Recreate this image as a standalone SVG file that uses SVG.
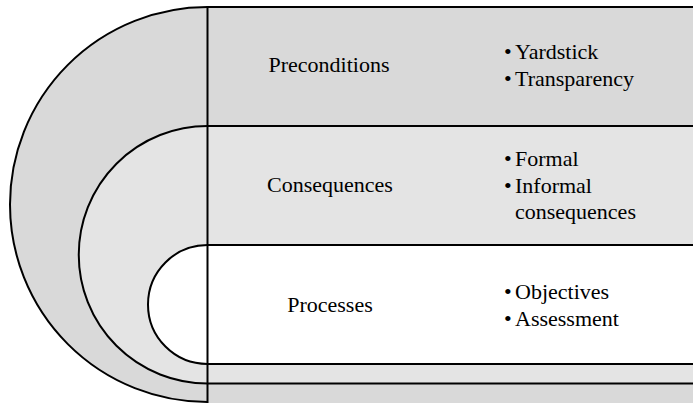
<svg xmlns="http://www.w3.org/2000/svg" width="693" height="403" viewBox="0 0 693 403">
<style>
.band{stroke:#000;stroke-width:2}
.outer{fill:#d9d9d9}
.mid{fill:#e4e4e4}
.inner{fill:#ffffff}
text{font-family:"Liberation Serif","Times New Roman",serif;font-size:22px;fill:#000}
.c{text-anchor:middle}
.line{stroke:#000;stroke-width:2;fill:none}
</style>
<rect x="0" y="0" width="693" height="403" fill="#ffffff"/>
<g id="preconditions">
<path class="outer" d="M693,7 H207.5 A197.5,197.5 0 0 0 207.5,402 V403 H693 Z"/>
<path class="line" d="M693,7 H207.5 A197.5,197.5 0 0 0 207.5,402"/>
<text class="c" x="329" y="72">Preconditions</text>
<text x="504" y="59">•</text><text x="515" y="59">Yardstick</text>
<text x="504" y="86">•</text><text x="515" y="86">Transparency</text>
</g>
<g id="consequences">
<path class="mid band" d="M693,126 H207.5 A128.75,128.75 0 0 0 207.5,383.5 H693"/>
<text class="c" x="330" y="192">Consequences</text>
<text x="504" y="166">•</text><text x="515" y="166">Formal</text>
<text x="504" y="193">•</text><text x="515" y="193">Informal</text>
<text x="515" y="219">consequences</text>
</g>
<g id="processes">
<path class="inner band" d="M693,245 H207.5 A59.5,59.5 0 0 0 207.5,364 H693"/>
<text class="c" x="330" y="312">Processes</text>
<text x="504" y="299">•</text><text x="515" y="299">Objectives</text>
<text x="504" y="326">•</text><text x="515" y="326">Assessment</text>
</g>
<g id="connectors">
<line class="line" x1="207.5" y1="6" x2="207.5" y2="403"/>
</g>
</svg>
